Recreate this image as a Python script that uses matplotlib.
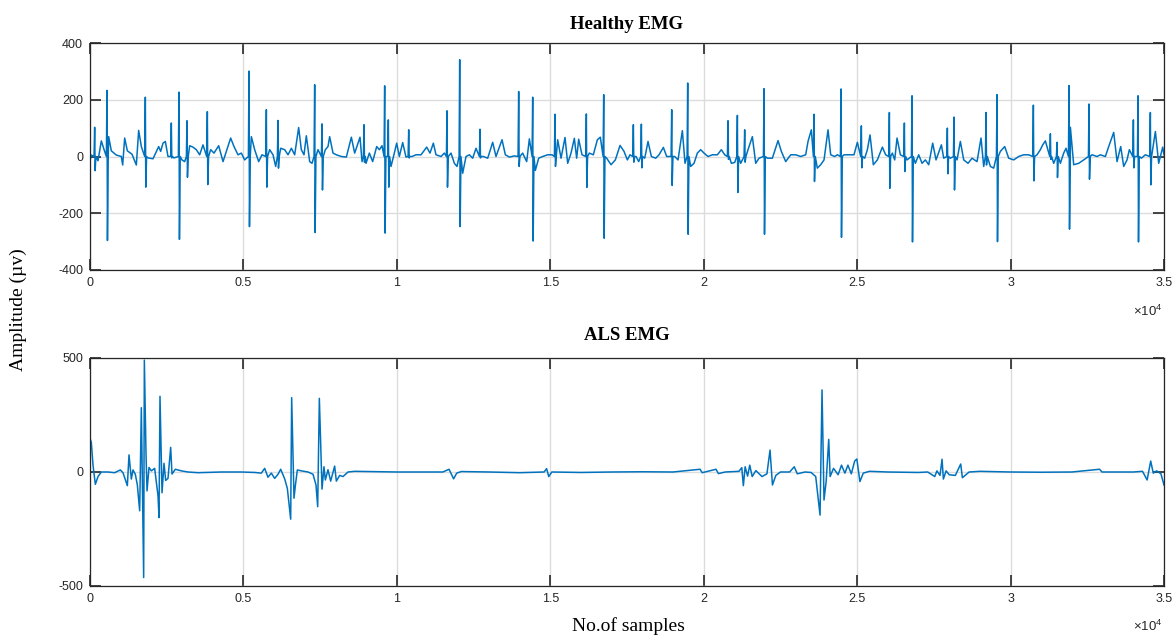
import numpy as np
import matplotlib.pyplot as plt
from matplotlib.ticker import FuncFormatter

# ---- Healthy EMG: background trace (sample, amplitude)
healthy_t = [0, 43, 261, 369, 456, 608, 695, 858, 1021, 1065, 1130, 1217, 1369, 1510, 1586, 1673,
             1890, 2053, 2238, 2303, 2379, 2455, 2542, 2737, 2998, 3085, 3248, 3356, 3465, 3574,
             3682, 3932, 4041, 4193, 4335, 4443, 4584, 4693, 4823, 4932, 5040, 5258, 5366, 5497,
             5605, 5855, 5964, 6051, 6214, 6344, 6453, 6562, 6670, 6800, 6887, 6974, 7050, 7159,
             7235, 7430, 7669, 7756, 7810, 7919, 8028, 8191, 8354, 8517, 8625,
             8799, 8865, 8995, 9103, 9212, 9343, 9430, 9516, 9810, 9918, 9994, 10081, 10190, 10298,
             10494, 10624, 10787, 10972, 11080, 11189, 11276, 11439, 11548, 11765, 11874, 11960,
             12145, 12254, 12362, 12471, 12580, 12819, 12960, 13123, 13231, 13427, 13536, 13666,
             13829, 14100, 14231, 14318, 14513, 14622, 14752, 14915, 15056, 15241, 15350, 15480,
             15567, 15676, 15784, 15860, 15925, 16034, 16273, 16403, 16534, 16631, 16838, 16980,
             17120, 17273,
             17403, 17512, 17598, 17794, 17881, 18077, 18185, 18294, 18435, 18544, 18685, 18793,
             19054, 19163, 19304, 19391, 19576, 19684, 19793, 19901, 20010, 20140, 20282, 20445,
             20575, 20684, 20901, 21010, 21205, 21444, 21585, 21694, 21802, 22074, 22237, 22422,
             22530, 22672, 22835, 22998, 23160, 23323, 23399, 23508, 23703, 23812, 23921, 24051,
             24138, 24268, 24355, 24572, 24735, 24898, 25007, 25246, 25333, 25420, 25528, 25659,
             25822, 25930,
             26148, 26224, 26300, 26409, 26626, 26897, 27006, 27115, 27223, 27332, 27462, 27571,
             27745, 27821, 28038, 28255, 28364, 28473, 28614, 28744, 28907, 29037, 29124, 29342,
             29450, 29667, 29809, 29939, 30102, 30265, 30428, 30591, 30862, 30971, 31047, 31134,
             31406, 31623, 31731, 31808, 31949, 32057, 32220, 32383, 32655, 32818, 32926, 33089,
             33198, 33361, 33470, 33589, 33687, 33795, 33871, 34262, 34393, 34719, 34827, 34958,
             35000]
healthy_v = [-15, 5, -15, 55, 25, 70, 20, 5, 0, -30, 65, 20, 8, -30, 92, 35,
             -5, -8, 35, 18, 47, 53, 0, -5, -12, -18, 38, 33, 24, 6,
             41, 24, 12, 38, -18, 18, 65, 35, 6, 12, -12, 70, 24, -18,
             6, 24, 6, -35, 29, 24, 6, 29, 6, 102, 24, 6, 73, -18,
             -24, 24, 24, 35, 70, 12, 6, 0, -2, 68, 12,
             68, -18, -24, 12, -18, 35, 24, 38, -35, 12, 47, 0, 49, -2,
             0, 6, 6, 33, 12, 47, 6, 0, 12, 12, -24, -35,
             -59, 0, 6, -6, 29, 0, -6, 50, 0, 59, 6, -2,
             2, 12, -18, 62, -49, -6, 0, 6, 6, 59, -6, 67,
             -24, 12, 64, -6, 61, 6, 12, 6, 59, 68, -6, -29,
             -12, 39,
             18, -12, 6, 0, -18, -6, 53, 0, -6, 6, 32, 0,
             0, -12, 91, -24, -35, -24, 12, 24, 12, 0, 6, 6,
             24, 6, -24, -21, -24, 24, 70, -24, -6, -6, -6, 56,
             18, -18, 6, 6, 0, 6, 53, 94, -41, -29, -12, 94,
             6, 0, 6, 6, 6, 6, 50, -6, 24, 76, -29, -12,
             33, 6,
             12, -12, 65, 6, -12, -24, 6, -24, -12, -29, 47, -12,
             41, -6, -6, -12, 53, -12, -24, -6, -18, 65, -35, -35,
             -41, 18, 35, -6, -12, 0, 6, 6, 6, 24, 41, 55,
             -24, -24, 12, 29, 103, -29, -24, -12, 6, 0, 6, 0,
             35, 85, -18, 35, -35, -12, 24, -6, 6, 88, -24, 33,
             6]

# Healthy EMG: motor unit spikes (sample, positive peak, negative peak)
spike_pos = [152, 554, 1803, 2650, 2900, 3161, 3824, 5182, 5747, 6127, 7322, 7561, 8930, 9603,
             9722, 10386, 11635, 12048, 12710, 13970, 14427, 15154, 16175, 16741, 17707, 17968,
             18957, 19478, 20792, 21097, 21335, 21966, 23595, 24475, 25137, 26050, 26539, 26789,
             27940, 28158, 29201, 29559, 30743, 31297, 31514, 31906, 32557, 34002, 34154, 34555]
spike_up = [103, 233, 209, 118, 227, 126, 158, 301, 165, 127, 253, 115, 112, 249,
            129, 94, 161, 341, 96, 229, 209, 149, 150, 218, 112, 114,
            165, 259, 126, 145, 94, 239, 149, 238, 108, 155, 118, 214,
            100, 139, 155, 218, 181, 80, 50, 250, 185, 129, 214, 155]
spike_down = [-50, -296, -108, -5, -292, -73, -99, -247, -108, -41, -268, -118, -20, -270,
              -108, -5, -108, -247, -5, -35, -298, -35, -109, -288, -20, -40,
              -102, -274, -10, -127, -20, -274, -88, -285, -40, -112, -53, -301,
              -61, -118, -30, -300, -86, -10, -74, -256, -80, -40, -301, -100]

# ---- ALS EMG: background trace and spike tips
als_t = [0, 43, 98, 174, 261, 369, 587, 804, 988, 1075, 1217, 1347, 1401, 1477, 1543, 1923, 2000,
         2107, 2216, 2412, 2466, 2542, 2672, 2781, 2976, 3194, 3520, 4280, 4932, 5366, 5583, 5692,
         5800, 5909, 6018, 6127, 6214, 6344, 6431, 6692, 6757, 6887, 7105, 7268, 7365, 7625, 7669,
         7756, 7843, 7973, 8028, 8137, 8245, 8408, 8625, 10000, 11500, 11700, 11850, 11950, 12100,
         13000, 14000, 14800, 14880, 14950, 15050, 16000, 17000, 18000, 19000, 19880, 19950, 20400,
         20480, 20700, 21150, 21240, 21292, 21350, 21430, 21500, 21580, 21700, 21900, 22060, 22161,
         22240, 22350, 22500, 22800, 22950, 23050, 23300, 23500, 23650, 23990, 24120, 24230, 24380,
         24490, 24600, 24700, 24810, 24920, 24990, 25090, 25200, 25400, 26000, 27000, 27300, 27530,
         27600, 27700, 27767, 27810, 27900, 28000, 28200, 28375, 28430, 28650, 29000, 30000, 31000,
         32000, 32900, 32980, 34000, 34300, 34450, 34567, 34650, 34760, 34900, 35000]
als_v = [148, 130, 30, -54, -20, 0, 0, -3, 9, -3, -60, -31, 9, -10, -57, 20, 5,
         16, -104, 38, -37, -28, -9, 12, 5, 0, -3, 0, 0, -2, -5, 16,
         -23, -5, -28, -10, 12, -30, -72, -60, 9, 5, 0, -10, -57, 23, -35,
         10, -40, 26, -40, -15, -20, 0, 3, 0, 0, 12, -30, -5, 2,
         0, -3, 0, 15, -20, 0, -2, 0, 1, 0, 12, -3, 12,
         -7, 0, 3, 19, -60, 23, -18, 30, -20, 6, -20, -8, 96,
         -57, -15, 0, 0, 23, -8, 0, -2, -20, -42, -20, 16, -12,
         30, -5, 30, -8, 48, 57, -42, -5, 3, 0, -2, 0, -20,
         5, -15, 56, -31, 5, -12, -15, 35, -25, 0, 3, 0, -1,
         0, 12, 0, 0, 3, -35, 48, -5, 5, -8, -57]
als_spike_pos = [1271, 1619, 1673, 1749, 1771, 1825, 1858, 2249, 2281, 2347, 2629,
                 6540, 6572, 6648, 7420, 7474, 7561, 23791, 23856, 23920, 24074]
als_spike_amp = [75, -170, 282, -463, 491, 82, -83, -200, 332, -91, 108,
                 -207, 326, -115, -152, 323, -75, -189, 360, -123, 143]


def merge(t1, v1, t2, v2):
    t = np.concatenate([np.asarray(t1, float), np.asarray(t2, float)])
    v = np.concatenate([np.asarray(v1, float), np.asarray(v2, float)])
    order = np.argsort(t, kind='stable')
    return t[order], v[order]


# each spike: short flat lead-in, positive tip, negative tip, back to baseline
sp = np.asarray(spike_pos, float)
zeros = np.zeros_like(sp)
spk_t = np.column_stack([sp - 20, sp, sp + 15, sp + 40]).ravel()
spk_v = np.column_stack([zeros, spike_up, spike_down, zeros]).ravel()
h_t, h_v = merge(healthy_t, healthy_v, spk_t, spk_v)
a_t, a_v = merge(als_t, als_v, als_spike_pos, als_spike_amp)

line_color = '#0072BD'
axis_color = '#262626'
grid_color = '#dcdcdc'

plt.rcParams['font.family'] = 'Liberation Sans'
plt.rcParams['axes.unicode_minus'] = False
plt.rcParams['mathtext.fontset'] = 'custom'
plt.rcParams['mathtext.rm'] = 'Liberation Sans'

fig = plt.figure(figsize=(11.74, 6.35), dpi=100)
ax1 = fig.add_axes([90 / 1174, 1 - 270 / 635, 1074 / 1174, 227 / 635])
ax2 = fig.add_axes([90 / 1174, 1 - 586 / 635, 1074 / 1174, 228 / 635])

ax1.plot(h_t, h_v, color=line_color, lw=1.1)
ax2.plot(a_t, a_v, color=line_color, lw=1.1)

ax1.set_ylim(-400, 400)
ax1.set_yticks([-400, -200, 0, 200, 400])
ax2.set_ylim(-500, 500)
ax2.set_yticks([-500, 0, 500])

for ax in (ax1, ax2):
    ax.set_xlim(0, 35000)
    ax.set_xticks(np.arange(0, 35001, 5000))
    ax.xaxis.set_major_formatter(FuncFormatter(lambda x, p: f'{x / 1e4:g}'))
    ax.grid(True, color=grid_color, lw=1.0)
    ax.set_axisbelow(True)
    ax.tick_params(direction='in', length=8, width=1.2, top=True, right=True,
                   colors=axis_color, labelsize=9, pad=5)
    for s in ax.spines.values():
        s.set_color(axis_color)
        s.set_linewidth(0.9)

ax1.set_title('Healthy EMG', family='Liberation Serif', fontweight='bold', fontsize=13.5, pad=10)
ax2.set_title('ALS EMG', family='Liberation Serif', fontweight='bold', fontsize=13.5, pad=13)

fig.text(1133 / 1174, 1 - 316 / 635, r'$\times10^{4}$', fontsize=9.5, color=axis_color, va='baseline')
fig.text(1133 / 1174, 1 - 631 / 635, r'$\times10^{4}$', fontsize=9.5, color=axis_color, va='baseline')

fig.text(628 / 1174, 1 - 626 / 635, 'No.of samples', family='Liberation Serif', fontsize=14,
         ha='center', va='center')
fig.text(18 / 1174, 1 - 310 / 635, 'Amplitude (µv)', family='Liberation Serif', fontsize=14,
         rotation=90, ha='center', va='center')

fig.savefig('out.png', dpi=100)
